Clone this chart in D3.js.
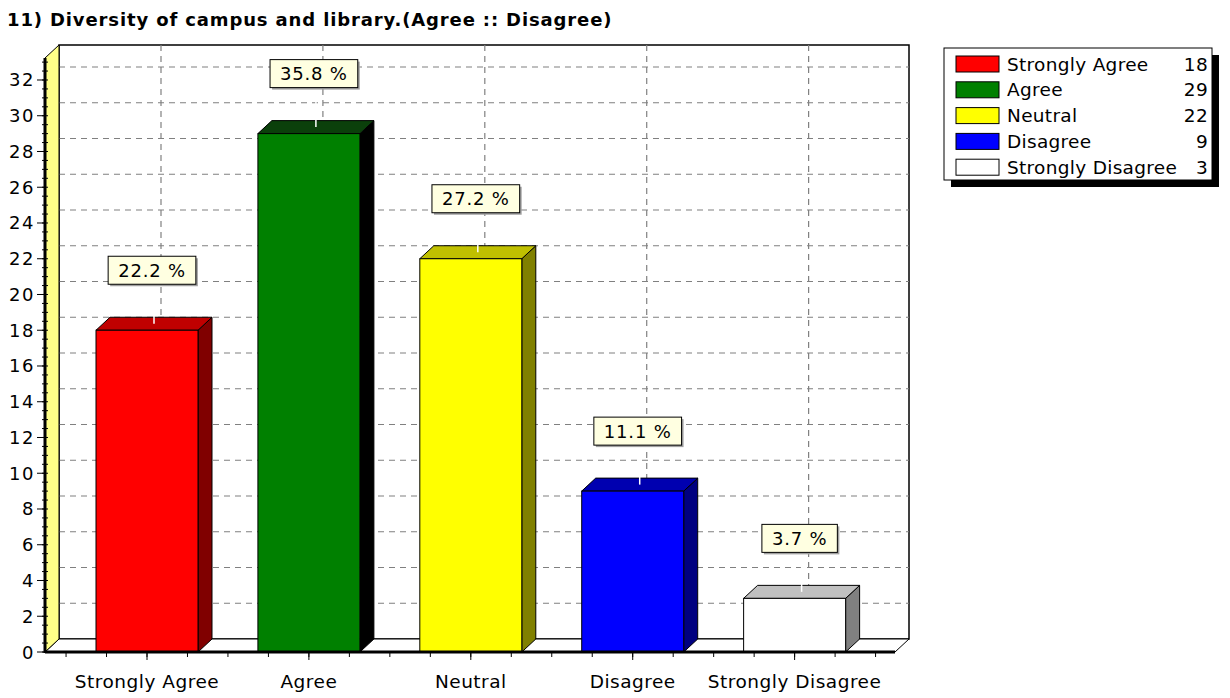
<!DOCTYPE html>
<html>
<head>
<meta charset="utf-8">
<script src="https://cdn.jsdelivr.net/npm/d3@7"></script>
<style>
  html, body { margin: 0; padding: 0; background: #ffffff; }
  svg { display: block; }
  text { font-family: "DejaVu Sans", Verdana, sans-serif; }
</style>
</head>
<body>
<svg id="chart" width="1230" height="698"></svg>
<script>
// Survey responses for question 11
const categories = ["Strongly Agree", "Agree", "Neutral", "Disagree", "Strongly Disagree"];
const counts = [18, 29, 22, 9, 3];
const percentLabels = ["22.2 %", "35.8 %", "27.2 %", "11.1 %", "3.7 %"];
const yTicks = [0, 2, 4, 6, 8, 10, 12, 14, 16, 18, 20, 22, 24, 26, 28, 30, 32];
const frontColors = ["#ff0000", "#008000", "#ffff00", "#0000ff", "#ffffff"];
const topColors   = ["#c00000", "#0b400b", "#c0c000", "#0000b0", "#c0c0c0"];
const sideColors  = ["#800000", "#000000", "#808000", "#000080", "#808080"];
const titleText = "11) Diversity of campus and library.(Agree :: Disagree)";

const svg = d3.select("#chart");

// plot geometry (front plane) and 3D depth offset
const plotL = 45, plotR = 895, plotB = 652, plotT = 58;
const DX = 14, DY = -13;
const barHalf = 51;

const x = d3.scaleLinear().domain([-0.63, 4.62]).range([plotL, plotR]);
const y = d3.scaleLinear().domain([0, 33.23]).range([plotB, plotT]);

const g = svg.append("g");

// back wall
g.append("rect")
  .attr("x", plotL + DX).attr("y", plotT + DY)
  .attr("width", plotR - plotL).attr("height", plotB - plotT)
  .attr("fill", "#ffffff").attr("stroke", "#000").attr("stroke-width", 1.5);

// horizontal gridlines on back wall
g.selectAll("line.hgrid").data(yTicks.filter(d => d > 0)).join("line")
  .attr("class", "hgrid")
  .attr("x1", plotL + DX).attr("x2", plotR + DX)
  .attr("y1", d => y(d) + DY).attr("y2", d => y(d) + DY)
  .attr("stroke", "#808080").attr("stroke-width", 1.2)
  .attr("stroke-dasharray", "6,5");

// vertical gridlines on back wall
g.selectAll("line.vgrid").data(categories).join("line")
  .attr("class", "vgrid")
  .attr("x1", (d, i) => x(i) + DX).attr("x2", (d, i) => x(i) + DX)
  .attr("y1", plotT + DY).attr("y2", plotB + DY)
  .attr("stroke", "#808080").attr("stroke-width", 1.2)
  .attr("stroke-dasharray", "6,5");

// floor
g.append("polygon")
  .attr("points", [[plotL, plotB], [plotR, plotB], [plotR + DX, plotB + DY], [plotL + DX, plotB + DY]].join(" "))
  .attr("fill", "#ffffff").attr("stroke", "#000").attr("stroke-width", 1);

// left wall
g.append("polygon")
  .attr("points", [[plotL, plotB], [plotL + DX, plotB + DY], [plotL + DX, plotT + DY], [plotL, plotT]].join(" "))
  .attr("fill", "#ffff88").attr("stroke", "#000").attr("stroke-width", 1);

// bars
const bars = g.selectAll("g.bar").data(counts).join("g").attr("class", "bar");
bars.append("polygon") // side face
  .attr("points", (d, i) => {
    const xr = x(i) + barHalf, yt = y(d);
    return [[xr, yt], [xr + DX, yt + DY], [xr + DX, plotB + DY], [xr, plotB]].join(" ");
  })
  .attr("fill", (d, i) => sideColors[i]).attr("stroke", "#000").attr("stroke-width", 1);
bars.append("polygon") // top face
  .attr("points", (d, i) => {
    const xl = x(i) - barHalf, xr = x(i) + barHalf, yt = y(d);
    return [[xl, yt], [xl + DX, yt + DY], [xr + DX, yt + DY], [xr, yt]].join(" ");
  })
  .attr("fill", (d, i) => topColors[i]).attr("stroke", "#000").attr("stroke-width", 1);
bars.append("rect") // front face
  .attr("x", (d, i) => x(i) - barHalf).attr("y", d => y(d))
  .attr("width", barHalf * 2).attr("height", d => plotB - y(d))
  .attr("fill", (d, i) => frontColors[i]).attr("stroke", "#000").attr("stroke-width", 1);

// front floor edge and y axis line
g.append("line").attr("x1", plotL).attr("x2", plotR).attr("y1", plotB).attr("y2", plotB)
  .attr("stroke", "#000").attr("stroke-width", 3);
g.append("line").attr("x1", plotL).attr("x2", plotL).attr("y1", plotT).attr("y2", plotB + 1)
  .attr("stroke", "#000").attr("stroke-width", 3);

// y axis ticks and labels
const yMinor = d3.range(0, 33.01, 0.5);
g.selectAll("line.yminor").data(yMinor).join("line")
  .attr("x1", plotL - 3).attr("x2", plotL + 3)
  .attr("y1", d => y(d)).attr("y2", d => y(d))
  .attr("stroke", "#000").attr("stroke-width", 1);
g.selectAll("line.ymajor").data(yTicks).join("line")
  .attr("x1", plotL - 8).attr("x2", plotL)
  .attr("y1", d => y(d)).attr("y2", d => y(d))
  .attr("stroke", "#000").attr("stroke-width", 1);
g.selectAll("text.ylab").data(yTicks).join("text")
  .attr("class", "ylab")
  .attr("x", plotL - 10).attr("y", d => y(d))
  .attr("text-anchor", "end").attr("dominant-baseline", "central")
  .attr("font-size", 18).attr("letter-spacing", 1.5).attr("fill", "#000")
  .text(d => d);

// x axis ticks and labels
const xMinor = d3.range(-0.5, 4.51, 0.25);
g.selectAll("line.xminor").data(xMinor).join("line")
  .attr("x1", d => x(d)).attr("x2", d => x(d))
  .attr("y1", plotB).attr("y2", plotB + 5)
  .attr("stroke", "#000").attr("stroke-width", 1);
g.selectAll("line.xmajor").data(categories).join("line")
  .attr("x1", (d, i) => x(i)).attr("x2", (d, i) => x(i))
  .attr("y1", plotB).attr("y2", plotB + 8)
  .attr("stroke", "#000").attr("stroke-width", 1);
g.selectAll("text.xlab").data(categories).join("text")
  .attr("class", "xlab")
  .attr("x", (d, i) => x(i)).attr("y", 681)
  .attr("text-anchor", "middle").attr("dominant-baseline", "central")
  .attr("font-size", 18.5).attr("letter-spacing", 0.5).attr("fill", "#000")
  .text(d => d);

// value labels with connector lines
const labelOffset = 60;
g.selectAll("line.conn").data(counts).join("line")
  .attr("x1", (d, i) => x(i) + DX / 2).attr("x2", (d, i) => x(i) + DX / 2)
  .attr("y1", d => y(d) + DY / 2).attr("y2", d => y(d) - labelOffset)
  .attr("stroke", "#ffffff").attr("stroke-width", 1.5);

const labels = g.selectAll("g.vlab").data(counts).join("g").attr("class", "vlab")
  .attr("transform", (d, i) => `translate(${x(i) + DX / 2 - 2},${y(d) - labelOffset})`);
labels.each(function(d, i) {
  const sel = d3.select(this);
  const t = sel.append("text")
    .attr("text-anchor", "middle").attr("dominant-baseline", "central")
    .attr("font-size", 18).attr("letter-spacing", 0.8).attr("fill", "#000")
    .text(percentLabels[i]);
  const w = t.node().getComputedTextLength() + 20, h = 28;
  sel.insert("rect", "text")
    .attr("x", -w / 2 + 2).attr("y", -h / 2 + 2).attr("width", w).attr("height", h)
    .attr("fill", "#a0a0a0");
  sel.insert("rect", "text")
    .attr("x", -w / 2).attr("y", -h / 2).attr("width", w).attr("height", h)
    .attr("fill", "#ffffe1").attr("stroke", "#000").attr("stroke-width", 1);
});

// legend
const lg = svg.append("g").attr("transform", "translate(944,48)");
const lw = 268, lh = 132;
lg.append("rect").attr("x", 7).attr("y", 7).attr("width", lw).attr("height", lh).attr("fill", "#000");
lg.append("rect").attr("x", 0).attr("y", 0).attr("width", lw).attr("height", lh)
  .attr("fill", "#fff").attr("stroke", "#000").attr("stroke-width", 1);
const rows = lg.selectAll("g.row").data(categories).join("g").attr("class", "row")
  .attr("transform", (d, i) => `translate(0,${16 + i * 25.8})`);
rows.append("rect").attr("x", 12).attr("y", -8).attr("width", 43).attr("height", 16)
  .attr("fill", (d, i) => frontColors[i]).attr("stroke", "#000").attr("stroke-width", 1);
rows.append("text").attr("x", 63).attr("y", 0).attr("dominant-baseline", "central")
  .attr("font-size", 18.5).attr("letter-spacing", 0.3).attr("fill", "#000").text(d => d);
rows.append("text").attr("x", 264).attr("y", 0).attr("dominant-baseline", "central")
  .attr("text-anchor", "end").attr("font-size", 18.5).attr("letter-spacing", 0.3)
  .attr("fill", "#000").text((d, i) => counts[i]);

// title
svg.append("text").attr("x", 7).attr("y", 19).attr("dominant-baseline", "central")
  .attr("font-size", 18).attr("font-weight", "bold").attr("letter-spacing", 0.87).attr("fill", "#000")
  .text(titleText);
</script>
</body>
</html>
